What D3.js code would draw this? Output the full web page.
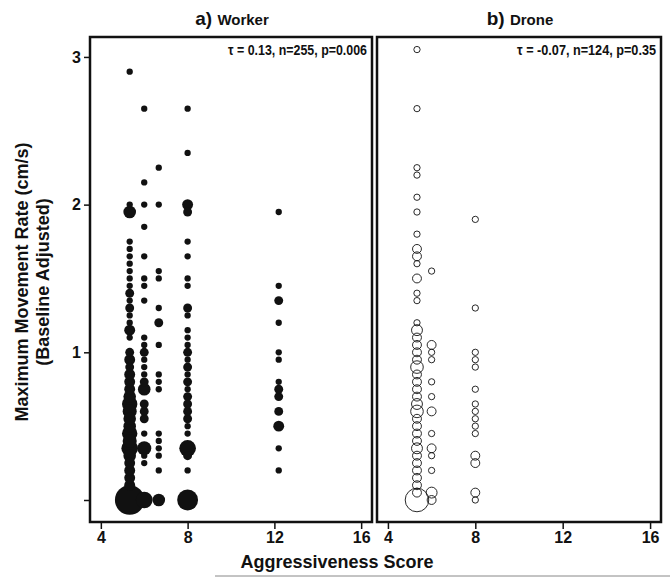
<!DOCTYPE html>
<html lang="en">
<head>
  <meta charset="UTF-8">
  <title>Aggressiveness vs movement rate</title>
  <script src="https://d3js.org/d3.v7.min.js"></script>
  <style>
    body { margin: 0; background: #fff; }
    svg text {
      font-family: "Liberation Sans Narrow", "Arial Narrow", "Liberation Sans", Arial, sans-serif;
      font-weight: bold;
      fill: #111;
    }
    svg text.wide { font-family: "Liberation Sans", Arial, sans-serif; }
  </style>
</head>
<body>
  <svg width="670" height="578"></svg>

  <script>
    // aggressiveness score of each column
    var workerScores = [5.33, 6, 6.67, 8, 12.2];
    var droneScores = [5.33, 6, 8];

    // [movement rate, number of bees] per column
    var worker533 = [[0,22],[0.1,3],[0.15,3],[0.2,3],[0.25,3],[0.3,4],[0.35,7],[0.4,5],[0.45,6],[0.5,4],[0.55,4],[0.6,5],
      [0.65,6],[0.7,4],[0.75,3],[0.8,3],[0.85,3],[0.9,2],[0.95,3],[1.0,2],[1.1,1],[1.15,3],[1.2,1],[1.25,1],[1.3,2],
      [1.35,1],[1.4,2],[1.45,1],[1.5,1],[1.55,1],[1.6,1],[1.65,1],[1.7,1],[1.75,1],[1.95,4],[2.0,1],[2.9,1]];
    var worker6 = [[0,7],[0.25,1],[0.3,1],[0.35,5],[0.45,1],[0.55,2],[0.6,2],[0.65,2],[0.75,4],[0.8,2],[0.85,1],[0.9,1],
      [0.95,1],[1.0,2],[1.05,1],[1.1,1],[1.35,1],[1.45,1],[1.5,1],[1.65,1],[1.85,1],[2.0,1],[2.15,1],[2.65,1]];
    var worker667 = [[0,4],[0.2,1],[0.3,1],[0.35,1],[0.4,1],[0.45,1],[0.75,1],[0.8,1],[0.85,1],[1.05,1],[1.2,2],[1.3,1],
      [1.5,1],[1.55,1],[2.0,1],[2.25,1]];
    var worker8 = [[0,11],[0.2,1],[0.3,2],[0.35,7],[0.45,1],[0.5,1],[0.55,2],[0.6,2],[0.65,2],[0.7,2],[0.75,1],[0.8,2],
      [0.85,1],[0.9,2],[0.95,1],[1.0,2],[1.05,1],[1.1,1],[1.15,1],[1.25,1],[1.3,2],[1.45,1],[1.5,1],[1.65,1],[1.75,1],
      [1.95,2],[2.0,3],[2.35,1],[2.65,1]];
    var worker122 = [[0.2,1],[0.35,1],[0.5,3],[0.6,2],[0.7,2],[0.75,2],[0.8,1],[0.95,1],[1.0,1],[1.2,1],[1.35,2],[1.45,1],[1.95,1]];

    var drone533 = [[0,14],[0.05,2],[0.1,2],[0.15,2],[0.2,2],[0.25,2],[0.3,2],[0.35,3],[0.4,2],[0.45,2],[0.5,2],[0.55,2],
      [0.6,4],[0.65,3],[0.7,2],[0.75,2],[0.8,2],[0.85,2],[0.9,4],[0.95,2],[1.0,2],[1.05,2],[1.1,2],[1.15,3],[1.2,1],
      [1.35,1],[1.4,1],[1.5,2],[1.6,1],[1.65,2],[1.7,2],[1.8,1],[1.95,1],[2.05,1],[2.2,1],[2.25,1],[2.65,1],[3.05,1]];
    var drone6 = [[0,2],[0.05,3],[0.2,1],[0.3,1],[0.35,2],[0.45,1],[0.6,2],[0.7,1],[0.8,1],[0.95,1],[1.0,1],[1.05,2],[1.55,1]];
    var drone8 = [[0,1],[0.05,2],[0.25,2],[0.3,2],[0.45,1],[0.5,1],[0.55,1],[0.6,1],[0.65,1],[0.75,1],[0.9,1],[0.95,1],
      [1.0,1],[1.3,1],[1.9,1]];

    var xTicks = [4, 8, 12, 16];
    var yTicks = [0, 1, 2, 3];
    var yTickLabels = ["", "1", "2", "3"];

    var svg = d3.select("svg");
    var plotTop = 37, plotBottom = 522;

    var y = d3.scaleLinear().domain([-0.149, 3.135]).range([plotBottom, plotTop]);
    var r = d3.scaleSqrt().domain([0, 1]).range([0, 3.15]);

    function toPoints(scores, cols) {
      return scores.flatMap(function(s, i) {
        return cols[i].map(function(p) { return { score: s, rate: p[0], n: p[1] }; });
      });
    }

    var panels = [
      { left: 90, right: 372, title: "a)", name: "Worker", stat: "τ = 0.13, n=255, p=0.006", filled: true,
        points: toPoints(workerScores, [worker533, worker6, worker667, worker8, worker122]) },
      { left: 377, right: 661, title: "b)", name: "Drone", stat: "τ = -0.07, n=124, p=0.35", filled: false,
        points: toPoints(droneScores, [drone533, drone6, drone8]) }
    ];

    panels.forEach(function(p) {
      var x = d3.scaleLinear().domain([3.5, 16.5]).range([p.left, p.right]);
      var g = svg.append("g");

      // points
      g.append("g")
        .selectAll("circle")
        .data(p.points.slice().sort(function(a, b) { return b.n - a.n; }))
        .enter().append("circle")
        .attr("cx", function(d) { return x(d.score); })
        .attr("cy", function(d) { return y(d.rate); })
        .attr("r", function(d) { return r(d.n); })
        .attr("fill", p.filled ? "#111" : "none")
        .attr("stroke", "#111")
        .attr("stroke-width", p.filled ? 0 : 0.9);

      // frame
      g.append("rect")
        .attr("x", p.left).attr("y", plotTop)
        .attr("width", p.right - p.left).attr("height", plotBottom - plotTop)
        .attr("fill", "none").attr("stroke", "#111").attr("stroke-width", 2.5);

      // x axis
      var xa = g.append("g")
        .attr("transform", "translate(0," + (plotBottom + 1) + ")")
        .call(d3.axisBottom(x).tickValues(xTicks).tickSize(6).tickPadding(3));
      xa.select(".domain").remove();
      xa.selectAll("line").attr("stroke", "#111").attr("stroke-width", 1.5);
      xa.selectAll("text").style("font-size", "16px");

      // title
      var t = svg.append("text")
        .attr("class", "wide")
        .attr("x", (p.left + p.right) / 2 + 1)
        .attr("y", 25)
        .attr("text-anchor", "middle");
      t.append("tspan").style("font-size", "19px").text(p.title + " ");
      t.append("tspan").style("font-size", "15px").text(p.name);

      // stats
      svg.append("text")
        .attr("x", p.right - 5)
        .attr("y", 55)
        .attr("text-anchor", "end")
        .style("font-size", "14px")
        .attr("textLength", 139)
        .attr("lengthAdjust", "spacingAndGlyphs")
        .text(p.stat);
    });

    // y axis
    var ya = svg.append("g")
      .attr("transform", "translate(89,0)")
      .call(d3.axisLeft(y).tickValues(yTicks).tickFormat(function(d, i) { return yTickLabels[i]; })
        .tickSize(5).tickPadding(3));
    ya.select(".domain").remove();
    ya.selectAll("line").attr("stroke", "#111").attr("stroke-width", 1.5);
    ya.selectAll("text").style("font-size", "16px");

    // axis titles
    svg.append("text")
      .attr("class", "wide")
      .attr("x", 337).attr("y", 568)
      .attr("text-anchor", "middle")
      .style("font-size", "18px")
      .text("Aggressiveness Score");

    var yt = svg.append("text")
      .attr("class", "wide")
      .attr("transform", "translate(28,282) rotate(-90)")
      .attr("text-anchor", "middle")
      .style("font-size", "18px");
    yt.append("tspan").attr("x", 0).attr("dy", 0).text("Maximum Movement Rate (cm/s)");
    yt.append("tspan").attr("x", 0).attr("dy", 21).text("(Baseline Adjusted)");

    // thin grey rule under the figure
    svg.append("line")
      .attr("x1", 215).attr("x2", 670)
      .attr("y1", 576).attr("y2", 576)
      .attr("stroke", "#888").attr("stroke-width", 1);
  </script>
</body>
</html>
